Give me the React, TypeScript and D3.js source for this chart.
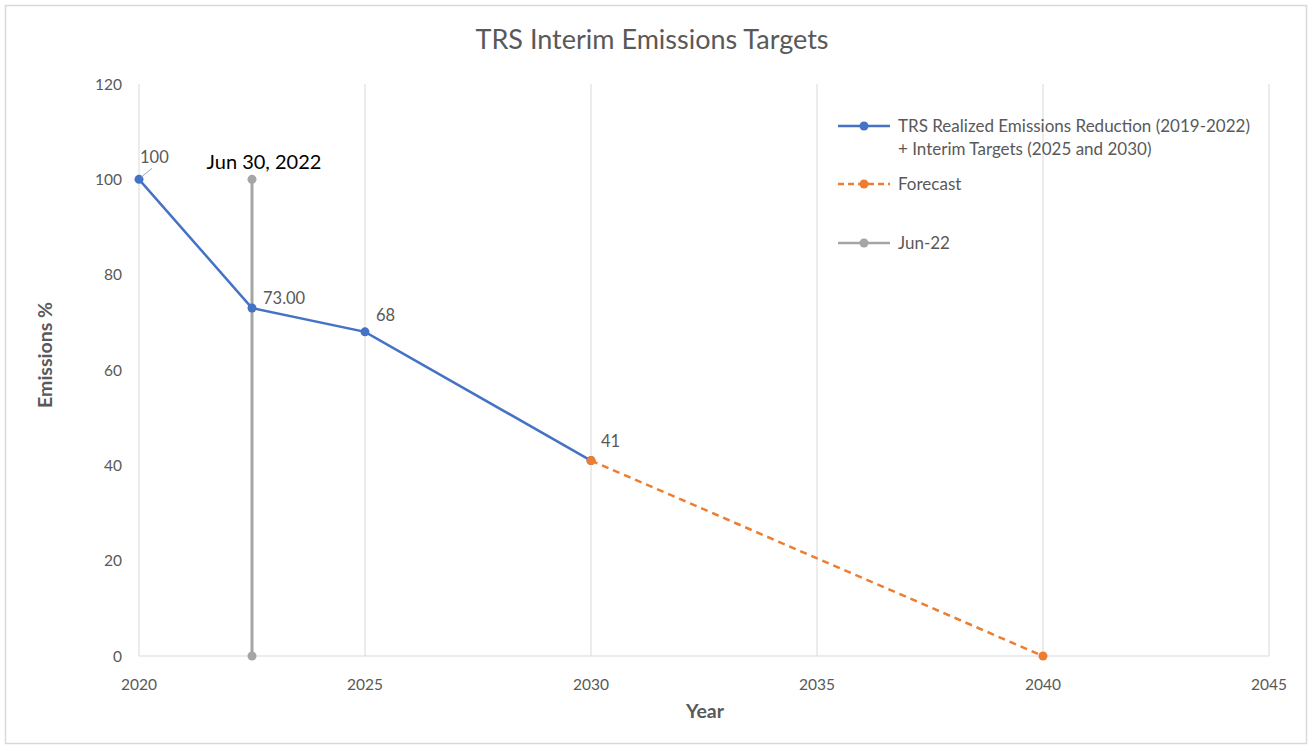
import { useEffect, useRef } from 'react';
import * as d3 from 'd3';

const realizedYears = [2020, 2022.5, 2025, 2030];
const realizedValues = [100, 73, 68, 41];
const realizedLabels = ['100', '73.00', '68', '41'];

const forecastYears = [2030, 2040];
const forecastValues = [41, 0];

const jun22Years = [2022.5, 2022.5];
const jun22Values = [0, 100];

const xTicks = [2020, 2025, 2030, 2035, 2040, 2045];
const yTicks = [0, 20, 40, 60, 80, 100, 120];

const legendItems = [
  { lines: ['TRS Realized Emissions Reduction (2019-2022)', '+ Interim Targets (2025 and 2030)'], color: '#4472C4', dash: '' },
  { lines: ['Forecast'], color: '#ED7D31', dash: '6,4' },
  { lines: ['Jun-22'], color: '#A5A5A5', dash: '' },
];

const FONT = 'Lato, "Open Sans", sans-serif';
const TEXT = '#595959';

export default function App() {
  const svgRef = useRef<SVGSVGElement>(null);
  const width = 1310;
  const height = 746;

  useEffect(() => {
    if (!svgRef.current) return;
    const svg = d3.select(svgRef.current);
    svg.selectAll('*').remove();

    svg.append('rect')
      .attr('x', 5.5).attr('y', 5.5)
      .attr('width', 1301).attr('height', 738)
      .attr('fill', '#fff')
      .attr('stroke', '#d9d9d9')
      .attr('stroke-width', 1.5);

    const x = d3.scaleLinear().domain([2020, 2045]).range([139, 1269]);
    const y = d3.scaleLinear().domain([0, 120]).range([656, 84]);

    // vertical gridlines
    svg.append('g')
      .selectAll('line')
      .data(xTicks)
      .join('line')
      .attr('x1', (d) => x(d)).attr('x2', (d) => x(d))
      .attr('y1', y(120)).attr('y2', y(0))
      .attr('stroke', '#d9d9d9')
      .attr('stroke-width', 1);

    // bottom axis line
    svg.append('line')
      .attr('x1', x(2020)).attr('x2', x(2045))
      .attr('y1', y(0)).attr('y2', y(0))
      .attr('stroke', '#d9d9d9')
      .attr('stroke-width', 1.2);

    // tick labels
    svg.append('g')
      .selectAll('text')
      .data(xTicks)
      .join('text')
      .attr('x', (d) => x(d))
      .attr('y', y(0) + 34)
      .attr('text-anchor', 'middle')
      .attr('font-family', FONT)
      .attr('font-size', 15.5)
      .attr('fill', TEXT)
      .text((d) => d);

    svg.append('g')
      .selectAll('text')
      .data(yTicks)
      .join('text')
      .attr('x', 122)
      .attr('y', (d) => y(d) + 5.5)
      .attr('text-anchor', 'end')
      .attr('font-family', FONT)
      .attr('font-size', 15.5)
      .attr('fill', TEXT)
      .text((d) => d);

    // title and axis titles
    svg.append('text')
      .attr('x', 652).attr('y', 49)
      .attr('text-anchor', 'middle')
      .attr('font-family', FONT)
      .attr('font-size', 27)
      .attr('fill', TEXT)
      .text('TRS Interim Emissions Targets');

    svg.append('text')
      .attr('x', 705).attr('y', 718)
      .attr('text-anchor', 'middle')
      .attr('font-family', FONT)
      .attr('font-size', 19.5)
      .attr('font-weight', 'bold')
      .attr('fill', TEXT)
      .text('Year');

    svg.append('text')
      .attr('transform', 'translate(52,355) rotate(-90)')
      .attr('text-anchor', 'middle')
      .attr('font-family', FONT)
      .attr('font-size', 19.5)
      .attr('font-weight', 'bold')
      .attr('fill', TEXT)
      .text('Emissions %');

    const line = d3.line<[number, number]>()
      .x((d) => x(d[0]))
      .y((d) => y(d[1]));

    const drawSeries = (xs: number[], ys: number[], color: string, dash: string, w: number) => {
      const pts = xs.map((v, i) => [v, ys[i]] as [number, number]);
      svg.append('path')
        .attr('d', line(pts))
        .attr('fill', 'none')
        .attr('stroke', color)
        .attr('stroke-width', w)
        .attr('stroke-dasharray', dash || null);
      svg.append('g')
        .selectAll('circle')
        .data(pts)
        .join('circle')
        .attr('cx', (d) => x(d[0]))
        .attr('cy', (d) => y(d[1]))
        .attr('r', 4.5)
        .attr('fill', color);
    };

    drawSeries(jun22Years, jun22Values, '#A5A5A5', '', 3);
    drawSeries(realizedYears, realizedValues, '#4472C4', '', 2.5);
    drawSeries(forecastYears, forecastValues, '#ED7D31', '7,5', 2.5);

    // data labels
    const labelOffsets = [[1, -16], [11, -4], [11, -11], [10, -14]];
    realizedYears.forEach((yr, i) => {
      svg.append('text')
        .attr('x', x(yr) + labelOffsets[i][0])
        .attr('y', y(realizedValues[i]) + labelOffsets[i][1])
        .attr('font-family', FONT)
        .attr('font-size', 16.5)
        .attr('fill', TEXT)
        .text(realizedLabels[i]);
    });
    // leader line for the "100" label
    svg.append('line')
      .attr('x1', x(2020) + 2).attr('y1', y(100) - 2)
      .attr('x2', x(2020) + 13).attr('y2', y(100) - 11)
      .attr('stroke', '#A5A5A5')
      .attr('stroke-width', 1);

    svg.append('text')
      .attr('x', x(2022.5) + 12)
      .attr('y', y(100) - 10)
      .attr('text-anchor', 'middle')
      .attr('font-family', FONT)
      .attr('font-size', 20)
      .attr('fill', '#000')
      .text('Jun 30, 2022');

    // legend
    const legendRows = [126, 184, 243];
    legendItems.forEach((item, i) => {
      const ly = legendRows[i];
      svg.append('line')
        .attr('x1', 838).attr('x2', 890)
        .attr('y1', ly).attr('y2', ly)
        .attr('stroke', item.color)
        .attr('stroke-width', 2.5)
        .attr('stroke-dasharray', item.dash || null);
      svg.append('circle')
        .attr('cx', 864).attr('cy', ly)
        .attr('r', 4.5)
        .attr('fill', item.color);
      item.lines.forEach((t, j) => {
        svg.append('text')
          .attr('x', 898)
          .attr('y', ly + 6 + j * 23)
          .attr('font-family', FONT)
          .attr('font-size', 17)
          .attr('fill', TEXT)
          .text(t);
      });
    });
  }, []);

  return (
    <svg
      ref={svgRef}
      width={width}
      height={height}
      style={{ position: 'absolute', left: 0, top: 0, display: 'block' }}
    />
  );
}
